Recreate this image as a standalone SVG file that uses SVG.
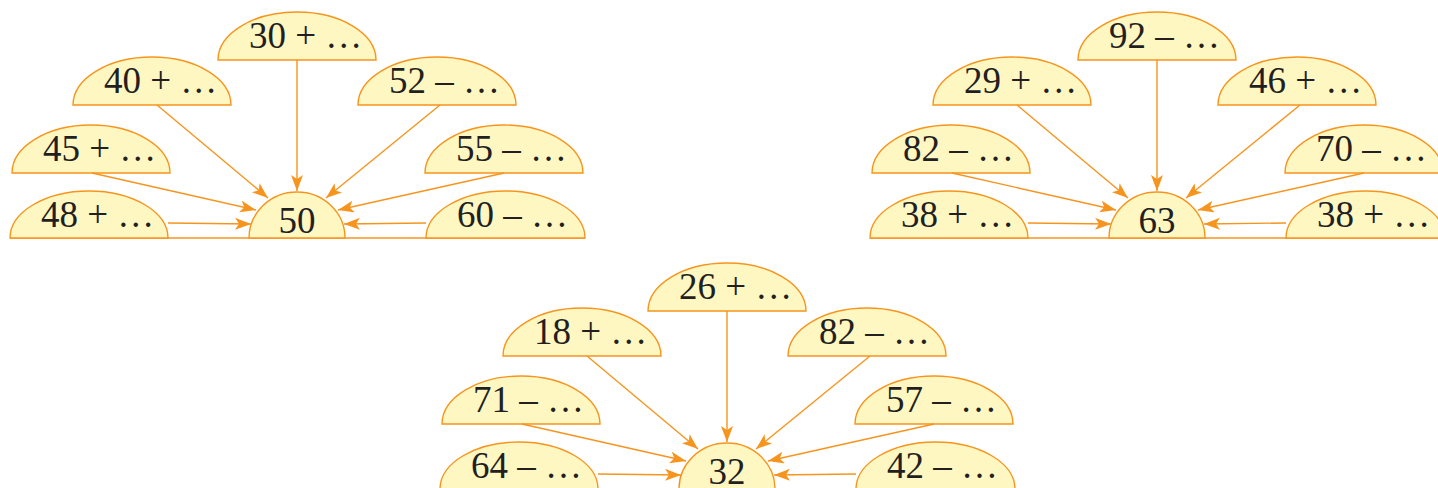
<svg xmlns="http://www.w3.org/2000/svg" width="1438" height="488" viewBox="0 0 1438 488">
<style>
.node path{fill:#FFF7C2;stroke:#F7941D;stroke-width:1.4}
.node text{font-family:"Liberation Serif","Times New Roman",serif;font-size:37px;fill:#231F20}
.node text.c{text-anchor:middle}
.base{stroke:#F7941D;stroke-width:1.6}
.conn line{stroke:#F7941D;stroke-width:1.4;marker-end:url(#arr)}
</style>
<defs>
<marker id="arr" markerUnits="userSpaceOnUse" markerWidth="17" markerHeight="13" refX="16" refY="6" orient="auto">
<path d="M0,0 L16,6 L0,12 L4,6 Z" fill="#F7941D"/>
</marker>
</defs>
<rect width="1438" height="488" fill="#FFFFFF"/>

<!-- Cluster 1 -->
<g id="cluster1">
<line class="base" x1="10" y1="238" x2="585" y2="238"/>
<g id="n1-top" class="node"><path d="M218,60 A79,48 0 0 1 376,60 Z"/><text x="249" y="48">30 + …</text></g>
<g id="n1-ul" class="node"><path d="M73,105 A79,48 0 0 1 231,105 Z"/><text x="104" y="93">40 + …</text></g>
<g id="n1-ur" class="node"><path d="M358,105 A79,48 0 0 1 516,105 Z"/><text x="389" y="93">52 – …</text></g>
<g id="n1-ml" class="node"><path d="M12,173 A79,48 0 0 1 170,173 Z"/><text x="43" y="161">45 + …</text></g>
<g id="n1-mr" class="node"><path d="M425,173 A79,48 0 0 1 583,173 Z"/><text x="456" y="161">55 – …</text></g>
<g id="n1-bl" class="node"><path d="M10,238 A79,47 0 0 1 168,238 Z"/><text x="41" y="227">48 + …</text></g>
<g id="n1-br" class="node"><path d="M426,238 A79.5,47 0 0 1 585,238 Z"/><text x="457" y="227">60 – …</text></g>
<g id="n1-center" class="node"><path d="M249,238 A48,46 0 0 1 345,238 Z"/><text class="c" x="297" y="233">50</text></g>
</g>

<!-- Cluster 2 -->
<g id="cluster2" transform="translate(860,0)">
<line class="base" x1="10" y1="238" x2="585" y2="238"/>
<g id="n2-top" class="node"><path d="M218,60 A79,48 0 0 1 376,60 Z"/><text x="249" y="48">92 – …</text></g>
<g id="n2-ul" class="node"><path d="M73,105 A79,48 0 0 1 231,105 Z"/><text x="104" y="93">29 + …</text></g>
<g id="n2-ur" class="node"><path d="M358,105 A79,48 0 0 1 516,105 Z"/><text x="389" y="93">46 + …</text></g>
<g id="n2-ml" class="node"><path d="M12,173 A79,48 0 0 1 170,173 Z"/><text x="43" y="161">82 – …</text></g>
<g id="n2-mr" class="node"><path d="M425,173 A79,48 0 0 1 583,173 Z"/><text x="456" y="161">70 – …</text></g>
<g id="n2-bl" class="node"><path d="M10,238 A79,47 0 0 1 168,238 Z"/><text x="41" y="227">38 + …</text></g>
<g id="n2-br" class="node"><path d="M426,238 A79.5,47 0 0 1 585,238 Z"/><text x="457" y="227">38 + …</text></g>
<g id="n2-center" class="node"><path d="M249,238 A48,46 0 0 1 345,238 Z"/><text class="c" x="297" y="233">63</text></g>
</g>

<!-- Cluster 3 -->
<g id="cluster3" transform="translate(430,251)">
<line class="base" x1="10" y1="238" x2="585" y2="238"/>
<g id="n3-top" class="node"><path d="M218,60 A79,48 0 0 1 376,60 Z"/><text x="249" y="48">26 + …</text></g>
<g id="n3-ul" class="node"><path d="M73,105 A79,48 0 0 1 231,105 Z"/><text x="104" y="93">18 + …</text></g>
<g id="n3-ur" class="node"><path d="M358,105 A79,48 0 0 1 516,105 Z"/><text x="389" y="93">82 – …</text></g>
<g id="n3-ml" class="node"><path d="M12,173 A79,48 0 0 1 170,173 Z"/><text x="43" y="161">71 – …</text></g>
<g id="n3-mr" class="node"><path d="M425,173 A79,48 0 0 1 583,173 Z"/><text x="456" y="161">57 – …</text></g>
<g id="n3-bl" class="node"><path d="M10,238 A79,47 0 0 1 168,238 Z"/><text x="41" y="227">64 – …</text></g>
<g id="n3-br" class="node"><path d="M426,238 A79.5,47 0 0 1 585,238 Z"/><text x="457" y="227">42 – …</text></g>
<g id="n3-center" class="node"><path d="M249,238 A48,46 0 0 1 345,238 Z"/><text class="c" x="297" y="233">32</text></g>
</g>

<g id="connectors" class="conn">
<g transform="translate(0,0)">
<line x1="297" y1="60" x2="297" y2="191"/>
<line x1="157" y1="105" x2="268" y2="198"/>
<line x1="440" y1="105" x2="326" y2="198"/>
<line x1="92" y1="173" x2="256" y2="210"/>
<line x1="504" y1="173" x2="338" y2="210"/>
<line x1="168" y1="223" x2="251" y2="224"/>
<line x1="426" y1="223" x2="344" y2="224"/>
</g>
<g transform="translate(860,0)">
<line x1="297" y1="60" x2="297" y2="191"/>
<line x1="157" y1="105" x2="268" y2="198"/>
<line x1="440" y1="105" x2="326" y2="198"/>
<line x1="92" y1="173" x2="256" y2="210"/>
<line x1="504" y1="173" x2="338" y2="210"/>
<line x1="168" y1="223" x2="251" y2="224"/>
<line x1="426" y1="223" x2="344" y2="224"/>
</g>
<g transform="translate(430,251)">
<line x1="297" y1="60" x2="297" y2="191"/>
<line x1="157" y1="105" x2="268" y2="198"/>
<line x1="440" y1="105" x2="326" y2="198"/>
<line x1="92" y1="173" x2="256" y2="210"/>
<line x1="504" y1="173" x2="338" y2="210"/>
<line x1="168" y1="223" x2="251" y2="224"/>
<line x1="426" y1="223" x2="344" y2="224"/>
</g>
</g>
</svg>
